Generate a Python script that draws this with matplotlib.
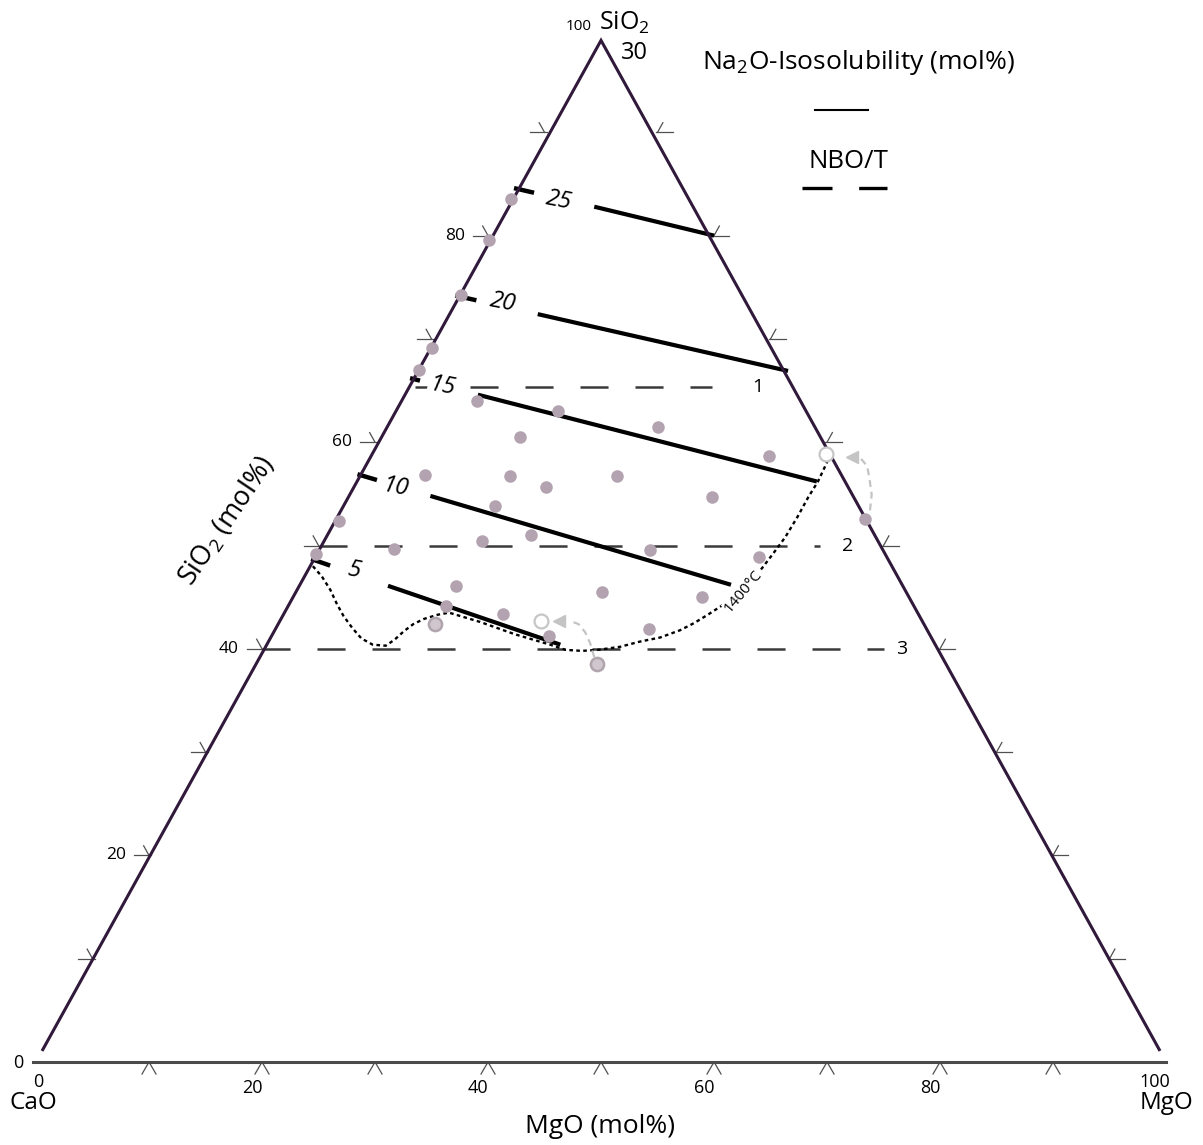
import numpy as np
import matplotlib
matplotlib.use('Agg')
import matplotlib.pyplot as plt

plt.rcParams['font.family'] = ['Open Sans', 'DejaVu Sans']
plt.rcParams['mathtext.fontset'] = 'custom'
plt.rcParams['mathtext.rm'] = 'Open Sans'
plt.rcParams['mathtext.it'] = 'Open Sans:italic'
plt.rcParams['lines.scale_dashes'] = False

# ----------------------------------------------------------------------------------------------------------------------
# Datos (composiciones en mol%: MgO y SiO2, el resto es CaO)
# ----------------------------------------------------------------------------------------------------------------------

# Muestras
dot_mgo = [0.3, 0.3, 0.5, 0.5, 0.4, 7.0, 14.7, 24.3, 12.6, 35.5, 6.0, 13.6, 23.1, 17.3, 32.5, 13.7,
           0.6, 18.3, 14.3, 6.8, 0.2, 29.5, 39.5, 14.1, 27.3, 36.4, 14.2, 19.6, 33.3, 24.8, 47.1]
dot_sio2 = [83.5, 79.6, 74.3, 69.1, 67.0, 64.0, 63.0, 61.5, 60.5, 58.7, 56.8, 56.7, 56.7, 55.7, 54.7, 53.8,
            52.4, 51.0, 50.4, 49.7, 49.2, 49.6, 48.9, 46.1, 45.5, 45.0, 44.1, 43.4, 41.9, 41.2, 52.6]
ring_mgo = [14.1, 30.4]
ring_sio2 = [42.4, 38.5]
open_mgo = [23.3, 40.5]
open_sio2 = [42.7, 58.9]

# Isosolubilidad de Na2O
iso_levels = [25, 20, 15, 10, 5]
iso_side_sio2 = [84.6, 74.2, 66.2, 56.9, 48.7]
iso_stub_mgo = [2.0, 2.1, 1.0, 2.0, 2.0]
iso_start_mgo = [8.0, 8.2, 6.8, 7.5, 8.1]
iso_start_sio2 = [82.8, 72.4, 64.6, 54.8, 46.1]
iso_end_mgo = [20.0, 33.1, 41.0, 38.4, 26.2]
iso_end_sio2 = [80.0, 66.9, 56.2, 46.2, 40.4]
iso_lab_mgo = [4.6, 4.6, 3.3, 4.0, 4.3]
iso_lab_sio2 = [83.4, 73.5, 65.4, 55.6, 47.6]

# NBO/T
nbo_levels = [1, 2, 3]
nbo_sio2 = [65.3, 50.0, 40.0]
nbo_end_mgo = [27.2, 44.4, 55.0]
nbo_lab_mgo = [31.2, 46.8, 56.6]

# Isoterma de 1400 C
curve_mgo = [0.5, 1.8, 3.2, 4.4, 5.6, 7.0, 8.3, 9.6, 10.8, 11.3, 11.7, 12.2, 12.9, 13.9, 14.8, 18.0, 21.7,
             25.3, 26.9, 28.4, 29.8, 31.6, 33.1, 34.7, 36.1, 37.0, 37.8, 38.8, 39.7, 40.3, 40.6, 40.9,
             41.0, 41.0, 41.1, 41.0, 40.9]
curve_sio2 = [48.0, 47.0, 45.7, 44.4, 43.2, 42.0, 41.0, 40.4, 40.3, 40.9, 41.7, 42.4, 42.9, 43.3, 43.5, 42.6,
              41.4, 40.4, 39.9, 39.8, 39.9, 40.2, 40.7, 41.1, 41.8, 42.5, 43.3, 44.4, 46.1, 47.6, 49.1,
              50.8, 52.8, 54.7, 56.2, 57.6, 58.8]

# Flechas
arrow1_mgo = [29.8, 28.8, 27.8, 26.8, 25.9]
arrow1_sio2 = [39.2, 40.5, 41.6, 42.4, 42.7]
arrow2_mgo = [47.1, 46.5, 45.5, 44.7, 43.8]
arrow2_sio2 = [53.4, 54.9, 56.5, 57.7, 58.4]
head_mgo = [24.9, 42.9]
head_sio2 = [42.7, 58.6]

tick_vals = [10, 20, 30, 40, 50, 60, 70, 80, 90]
label_vals = [20, 40, 60, 80]


def tern(m, s):
    m = np.asarray(m, dtype=float)
    s = np.asarray(s, dtype=float)
    return m + s / 2.0, s


# ----------------------------------------------------------------------------------------------------------------------
# Figura
# ----------------------------------------------------------------------------------------------------------------------

fig = plt.figure(figsize=(12.03, 11.45), dpi=100)
ax = fig.add_axes([0, 0, 1, 1])
ax.set_xlim(-3.186, 103.27)
ax.set_ylim(-8.035, 102.81)
ax.axis('off')

PX = 1 / 11.3
PY = 1 / 10.33
edge_c = '#30193a'
tick_c = '#505050'

# Triangulo
ax.plot([0.6, 50.0, 99.4], [1.2, 98.9, 1.2], color=edge_c, lw=2.2, solid_joinstyle='miter', zorder=4)
ax.plot([-0.3, 100.0], [0, 0], color='#4a4a4a', lw=2.2, zorder=4)

# Marcas de los ejes
for k in tick_vals:
    x0, y0 = tern(0, k)
    ax.plot([x0 - 15 * PX, x0 + 2 * PX], [y0, y0], color=tick_c, lw=0.9)
    ax.plot([x0, x0 - 11 * 0.487 * PX], [y0, y0 + 11 * 0.873 * PY], color=tick_c, lw=0.9)
    x0, y0 = tern(100 - k, k)
    ax.plot([x0 - 2 * PX, x0 + 15 * PX], [y0, y0], color=tick_c, lw=0.9)
    ax.plot([x0, x0 + 11 * 0.485 * PX], [y0, y0 + 11 * 0.875 * PY], color=tick_c, lw=0.9)
    x0, y0 = tern(k, 0)
    ax.plot([x0 - 7 * PX, x0, x0 + 7 * PX], [y0 - 12 * PY, y0, y0 - 12 * PY], color=tick_c, lw=0.9)

for v in label_vals:
    x0, y0 = tern(0, v)
    ax.text(x0 - 33 * PX, y0, str(v), ha='center', va='center', fontsize=12.5)
    x0, y0 = tern(v, 0)
    ax.text(x0 - 10 * PX, y0 - 26 * PY, str(v), ha='center', va='center', fontsize=13)

ax.text(-1.59, -0.1, '0', ha='center', va='center', fontsize=13)
ax.text(0.18, -1.9, '0', ha='center', va='center', fontsize=13)
ax.text(99.0, -1.9, '100', ha='center', va='center', fontsize=13)
ax.text(48.0, 100.2, '100', ha='center', va='center', fontsize=11)
ax.text(52.1, 100.55, r'SiO$_{\mathrm{2}}$', ha='center', va='center', fontsize=18)
ax.text(53.0, 97.65, '30', ha='center', va='center', fontsize=17)
ax.text(-0.27, -4.0, 'CaO', ha='center', va='center', fontsize=17.5)
ax.text(100.0, -4.0, 'MgO', ha='center', va='center', fontsize=17.5)
ax.text(49.9, -6.2, 'MgO (mol%)', ha='center', va='center', fontsize=19)
ax.text(16.9, 52.4, r'SiO$_{\mathrm{2}}$ (mol%)', ha='center', va='center', fontsize=19.5, rotation=56)

# Lineas NBO/T
nbo_offsets = [32.4, 0, 0]
for lev, s, m_end, m_lab, off in zip(nbo_levels, nbo_sio2, nbo_end_mgo, nbo_lab_mgo, nbo_offsets):
    xa, ya = tern(0, s)
    xb, yb = tern(m_end, s)
    ax.plot([xa, xb], [ya, yb], color='#3a3a3a', lw=1.8, linestyle=(off, (20.2, 19.4)), zorder=2)
    xl, yl = tern(m_lab, s)
    ax.text(xl, yl, str(lev), ha='center', va='center', fontsize=14, zorder=3)

# Lineas de isosolubilidad
for i, lev in enumerate(iso_levels):
    s0 = iso_side_sio2[i]
    s_stub = s0 + (iso_start_sio2[i] - s0) * iso_stub_mgo[i] / iso_start_mgo[i]
    xs, ys = tern([0, iso_stub_mgo[i]], [s0, s_stub])
    ax.plot(xs, ys, color='black', lw=3.2, solid_capstyle='butt', zorder=3)
    xs, ys = tern([iso_start_mgo[i], iso_end_mgo[i]], [iso_start_sio2[i], iso_end_sio2[i]])
    ax.plot(xs, ys, color='black', lw=3.0, solid_capstyle='butt', zorder=3)
    xl, yl = tern(iso_lab_mgo[i], iso_lab_sio2[i])
    ax.text(xl, yl, str(lev), ha='center', va='center', fontsize=17, style='italic', rotation=-11,
            bbox=dict(facecolor='white', edgecolor='none', pad=1.5), zorder=3)

# Isoterma 1400 C
cx, cy = tern(curve_mgo, curve_sio2)
ax.plot(cx, cy, color='black', lw=1.7, linestyle=(0, (2.6, 2.4)), zorder=2)
xl, yl = tern(39.8, 45.6)
ax.text(xl, yl, '1400°C', ha='center', va='center', fontsize=11, rotation=50,
        bbox=dict(facecolor='white', edgecolor='none', pad=0.3), zorder=3)

# Flechas
for am, asi in [(arrow1_mgo, arrow1_sio2), (arrow2_mgo, arrow2_sio2)]:
    ax_, ay_ = tern(am, asi)
    ax.plot(ax_, ay_, color='#c4c4c4', lw=1.6, linestyle=(0, (5, 3.5)), zorder=4)
hx, hy = tern(head_mgo, head_sio2)
ax.plot(hx, hy, linestyle='none', marker='<', ms=9, color='#c4c4c4', zorder=4)

# Muestras
dx, dy = tern(dot_mgo, dot_sio2)
ax.plot(dx, dy, linestyle='none', marker='o', ms=8, color='#b3a3b0', zorder=5)
rx, ry = tern(ring_mgo, ring_sio2)
ax.plot(rx, ry, linestyle='none', marker='o', ms=9.5, markerfacecolor='#cfc7cd', markeredgecolor='#b0a4ad',
        markeredgewidth=1.8, zorder=5)
ox, oy = tern(open_mgo, open_sio2)
ax.plot(ox, oy, linestyle='none', marker='o', ms=10, markerfacecolor='white', markeredgecolor='#c6c6c6',
        markeredgewidth=1.6, zorder=5)

# Leyenda
ax.text(72.74, 96.8, r'Na$_{\mathrm{2}}$O-Isosolubility (mol%)', ha='center', va='center', fontsize=19)
ax.plot([68.94, 73.63], [92.16, 92.16], color='black', lw=1.5)
ax.text(71.88, 87.15, 'NBO/T', ha='center', va='center', fontsize=18.5)
ax.plot([67.76, 75.28], [84.58, 84.58], color='black', lw=2.4, linestyle=(0, (21.6, 19.2)))

fig.savefig('out.png', dpi=100)
